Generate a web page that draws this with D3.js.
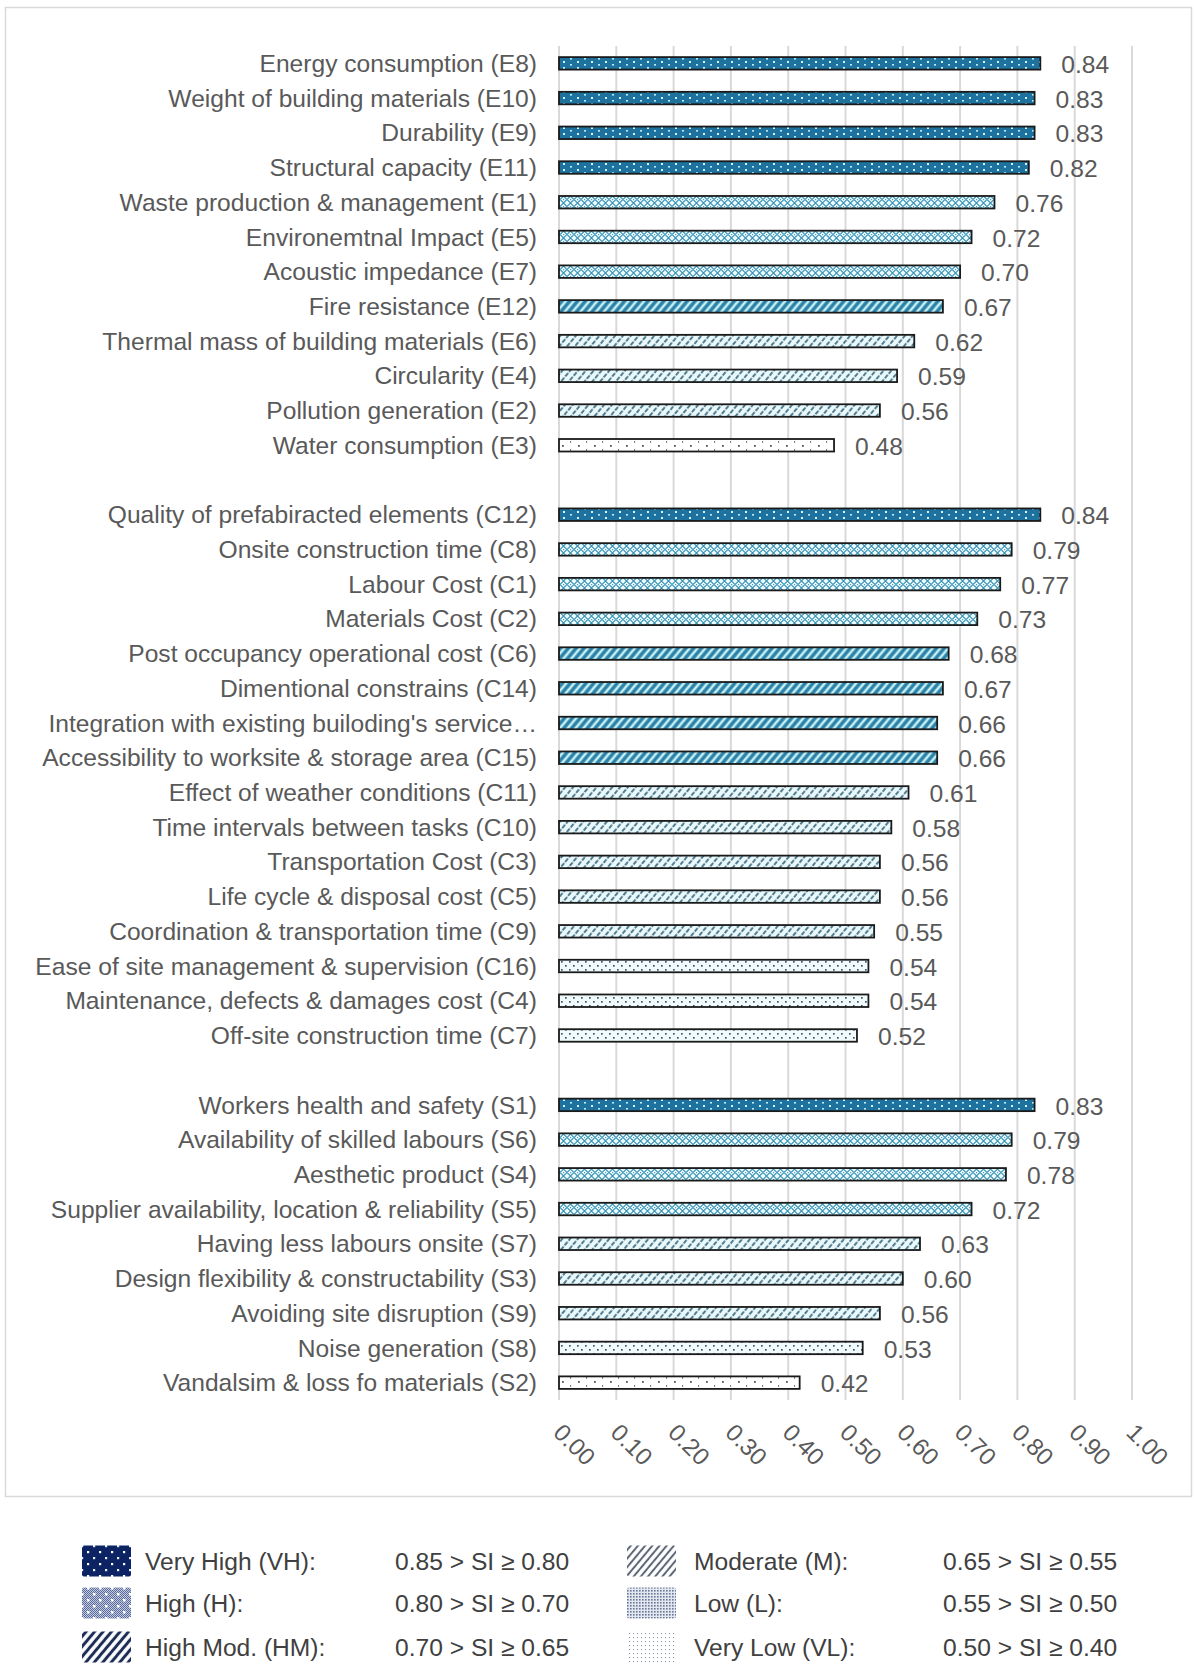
<!DOCTYPE html>
<html>
<head>
<meta charset="utf-8">
<script src="https://cdn.jsdelivr.net/npm/d3@7"></script>
<style>
  html, body { margin: 0; padding: 0; background: #ffffff; }
  svg { display: block; font-family: "Liberation Sans", Arial, sans-serif; }
</style>
</head>
<body>
<svg id="chart" width="1194" height="1665"></svg>
<script>
// Significance index (SI) per factor, grouped: environmental, construction/cost, social
const envFactors = [
  "Energy consumption (E8)", "Weight of building materials (E10)", "Durability (E9)",
  "Structural capacity (E11)", "Waste production & management (E1)", "Environemtnal Impact (E5)",
  "Acoustic impedance (E7)", "Fire resistance (E12)", "Thermal mass of building materials (E6)",
  "Circularity (E4)", "Pollution generation (E2)", "Water consumption (E3)"
];
const envValues = [0.84, 0.83, 0.83, 0.82, 0.76, 0.72, 0.70, 0.67, 0.62, 0.59, 0.56, 0.48];

const conFactors = [
  "Quality of prefabiracted elements (C12)", "Onsite construction time (C8)", "Labour Cost (C1)",
  "Materials Cost (C2)", "Post occupancy operational cost (C6)", "Dimentional constrains (C14)",
  "Integration with existing builoding's service\u2026", "Accessibility to worksite & storage area (C15)",
  "Effect of weather conditions (C11)", "Time intervals between tasks (C10)", "Transportation Cost (C3)",
  "Life cycle & disposal cost (C5)", "Coordination & transportation time (C9)",
  "Ease of site management & supervision (C16)", "Maintenance, defects & damages cost (C4)",
  "Off-site construction time  (C7)"
];
const conValues = [0.84, 0.79, 0.77, 0.73, 0.68, 0.67, 0.66, 0.66, 0.61, 0.58, 0.56, 0.56, 0.55, 0.54, 0.54, 0.52];

const socFactors = [
  "Workers health and safety (S1)", "Availability of skilled labours (S6)", "Aesthetic product (S4)",
  "Supplier availability, location & reliability (S5)", "Having less labours onsite (S7)",
  "Design flexibility & constructability (S3)", "Avoiding site disruption (S9)",
  "Noise generation (S8)", "Vandalsim & loss fo materials (S2)"
];
const socValues = [0.83, 0.79, 0.78, 0.72, 0.63, 0.60, 0.56, 0.53, 0.42];

const xTicks = [0, 0.1, 0.2, 0.3, 0.4, 0.5, 0.6, 0.7, 0.8, 0.9, 1.0];

// Significance classes (lower bound of each band)
const classKeys   = ["VH", "H", "HM", "M", "L", "VL"];
const classLimits = [0.80, 0.70, 0.65, 0.55, 0.50, 0.40];
const classNames  = ["Very High (VH):", "High (H):", "High Mod. (HM):", "Moderate (M):", "Low (L):", "Very Low (VL):"];
const classRanges = ["0.85 > SI \u2265 0.80", "0.80 > SI \u2265 0.70", "0.70 > SI \u2265 0.65",
                     "0.65 > SI \u2265 0.55", "0.55 > SI \u2265 0.50", "0.50 > SI \u2265 0.40"];

function classOf(v) {
  for (let i = 0; i < classLimits.length; i++) if (v >= classLimits[i] - 1e-9) return classKeys[i];
  return "VL";
}

// Rows, with a blank spacer row between groups
const rows = [];
const addGroup = (names, vals) => names.forEach((n, i) => rows.push({ id: n, label: n, value: vals[i] }));
addGroup(envFactors, envValues);
rows.push({ id: "__gap1", spacer: true });
addGroup(conFactors, conValues);
rows.push({ id: "__gap2", spacer: true });
addGroup(socFactors, socValues);

const svg = d3.select("#chart");
const textColor = "#595959";
const fontSize = 24.6;

const x = d3.scaleLinear().domain([0, 1]).range([559, 1132]);
const y = d3.scaleBand().domain(rows.map(d => d.id)).range([46, 1400])
  .paddingInner(0.64).paddingOuter(0.32);

// ---------- fill patterns ----------
const defs = svg.append("defs");

function stripePattern(id, bg, fg, w, spacing, angle, dash) {
  const p = defs.append("pattern").attr("id", id).attr("patternUnits", "userSpaceOnUse")
    .attr("width", spacing).attr("height", spacing).attr("patternTransform", `rotate(${angle})`);
  p.append("rect").attr("width", spacing).attr("height", spacing).attr("fill", bg);
  const l = p.append("line").attr("x1", spacing / 2).attr("x2", spacing / 2)
    .attr("y1", 0).attr("y2", spacing).attr("stroke", fg).attr("stroke-width", w);
  if (dash) l.attr("stroke-dasharray", dash);
  return p;
}
function dotPattern(id, bg, w, h, dots) {
  const p = defs.append("pattern").attr("id", id).attr("patternUnits", "userSpaceOnUse")
    .attr("width", w).attr("height", h);
  p.append("rect").attr("width", w).attr("height", h).attr("fill", bg);
  dots.forEach(d => p.append("rect").attr("x", d[0]).attr("y", d[1])
    .attr("width", d[2]).attr("height", d[3]).attr("fill", d[4]));
  return p;
}

// bar fills
dotPattern("bar-VH", "#1d72a0", 14, 6, [[3, 1, 2, 2, "#d6f3fa"], [10, 4, 2, 1.6, "#bfe9f3"]]);
(function () {
  const p = defs.append("pattern").attr("id", "bar-H").attr("patternUnits", "userSpaceOnUse")
    .attr("width", 7).attr("height", 7);
  p.append("rect").attr("width", 7).attr("height", 7).attr("fill", "#eefbfd");
  p.append("path").attr("d", "M0 3.5 L3.5 0 L7 3.5 L3.5 7 Z").attr("fill", "none")
    .attr("stroke", "#3a93b6").attr("stroke-width", 1.1);
  p.append("rect").attr("x", 3).attr("y", 3).attr("width", 1.2).attr("height", 1.2).attr("fill", "#4a9fc0");
})();
stripePattern("bar-HM", "#2a7fa6", "#c4f0f6", 2.6, 6, 40);
stripePattern("bar-M", "#e8f8fb", "#24556d", 1.5, 6, 40, "3 1.5");
dotPattern("bar-L", "#f1fbfd", 8, 8, [[1, 1, 1.7, 1.7, "#3f5866"], [5, 5, 1.7, 1.7, "#3f5866"]]);
dotPattern("bar-VL", "#ffffff", 16, 8, [[2, 5, 1.8, 1.8, "#4a5866"], [10, 1, 1.1, 1.8, "#6b7782"]]);

// legend fills
dotPattern("leg-VH", "#0c2463", 12, 12, [[3, 3, 2.2, 2.2, "#ffffff"], [9, 9, 2.2, 2.2, "#e6ebf5"]]);
dotPattern("leg-H-fine", "#c3cbe0", 2, 2, [[0, 0, 1, 1, "#5a6b9b"], [1, 1, 1, 1, "#5a6b9b"]]);
(function () {
  const p = defs.append("pattern").attr("id", "leg-H").attr("patternUnits", "userSpaceOnUse")
    .attr("width", 12).attr("height", 12);
  p.append("rect").attr("width", 12).attr("height", 12).attr("fill", "url(#leg-H-fine)");
  p.append("rect").attr("x", 3).attr("y", 3).attr("width", 2.5).attr("height", 2.5).attr("fill", "#ffffff");
  p.append("rect").attr("x", 9).attr("y", 9).attr("width", 2.5).attr("height", 2.5).attr("fill", "#ffffff");
})();
stripePattern("leg-HM", "#ffffff", "#1e2d56", 3, 6.5, 40);
stripePattern("leg-M", "#ffffff", "#5d6676", 2, 5.5, 40);
dotPattern("leg-L", "#e2e7f0", 3, 3, [[0, 0, 1.6, 1.6, "#6a7898"]]);
dotPattern("leg-VL", "#ffffff", 4, 4, [[1, 1, 1.1, 1.1, "#8c96a8"]]);

// ---------- frame ----------
svg.append("rect").attr("x", 5.5).attr("y", 7.5).attr("width", 1186).attr("height", 1489)
  .attr("fill", "none").attr("stroke", "#d9d9d9").attr("stroke-width", 1.5);

// ---------- grid ----------
const yRange = y.range();
svg.append("g").selectAll("line").data(xTicks).join("line")
  .attr("x1", d => x(d)).attr("x2", d => x(d))
  .attr("y1", yRange[0]).attr("y2", yRange[1])
  .attr("stroke", "#d9d9d9").attr("stroke-width", 2);

// ---------- x tick labels (rotated) ----------
svg.append("g").selectAll("text").data(xTicks).join("text")
  .attr("transform", d => `translate(${x(d) - 1},${yRange[1] + 28}) rotate(45)`)
  .attr("font-size", 24).attr("fill", textColor)
  .attr("dy", "0.35em")
  .text(d => d3.format(".2f")(d));

// ---------- bars ----------
const data = rows.filter(d => !d.spacer);
svg.append("g").selectAll("rect").data(data).join("rect")
  .attr("x", x(0)).attr("y", d => y(d.id))
  .attr("width", d => x(d.value) - x(0)).attr("height", y.bandwidth())
  .attr("fill", d => `url(#bar-${classOf(d.value)})`)
  .attr("stroke", "#1a1a1a").attr("stroke-width", 1.8);

// ---------- category labels ----------
svg.append("g").selectAll("text").data(data).join("text")
  .attr("x", x(0) - 22).attr("y", d => y(d.id) + y.bandwidth() / 2)
  .attr("dy", "0.35em").attr("text-anchor", "end")
  .attr("font-size", fontSize).attr("fill", textColor)
  .text(d => d.label);

// ---------- value labels ----------
svg.append("g").selectAll("text").data(data).join("text")
  .attr("x", d => x(d.value) + 21).attr("y", d => y(d.id) + y.bandwidth() / 2 + 1)
  .attr("dy", "0.35em")
  .attr("font-size", fontSize).attr("fill", textColor)
  .text(d => d3.format(".2f")(d.value));

// ---------- legend ----------
const legendRowY = [1561, 1603, 1647];
const legendCols = [
  { swatch: 82, label: 145, range: 395 },
  { swatch: 627, label: 694, range: 943 }
];
const legendItems = classKeys.map((k, i) => ({
  key: k, name: classNames[i], range: classRanges[i],
  col: legendCols[Math.floor(i / 3)], cy: legendRowY[i % 3]
}));
const lg = svg.append("g").selectAll("g").data(legendItems).join("g");
lg.append("rect")
  .attr("x", d => d.col.swatch).attr("y", d => d.cy - 15.5)
  .attr("width", 49).attr("height", 31).attr("rx", 2)
  .attr("fill", d => `url(#leg-${d.key})`);
lg.append("text")
  .attr("x", d => d.col.label).attr("y", d => d.cy).attr("dy", "0.35em")
  .attr("font-size", fontSize).attr("fill", "#404040")
  .text(d => d.name);
lg.append("text")
  .attr("x", d => d.col.range).attr("y", d => d.cy).attr("dy", "0.35em")
  .attr("font-size", fontSize).attr("fill", "#404040")
  .text(d => d.range);
</script>
</body>
</html>
